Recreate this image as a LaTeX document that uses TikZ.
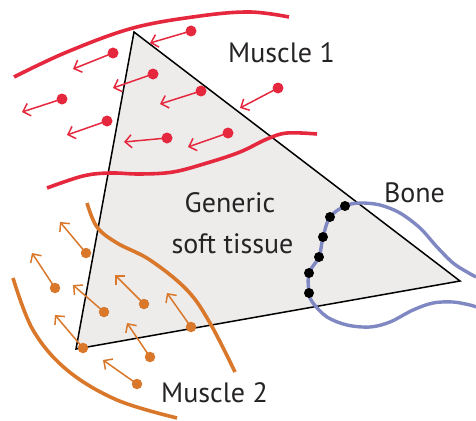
\documentclass[tikz,border=0pt]{standalone}
\usepackage{fontspec}
\setmainfont{PT Sans}
\usetikzlibrary{arrows.meta}
\definecolor{mred}{HTML}{E6283E}
\definecolor{morange}{HTML}{D9782B}
\definecolor{mblue}{HTML}{7F88C2}
\definecolor{tissue}{HTML}{EDECEB}
\definecolor{txt}{HTML}{262324}
\tikzset{
  reddot/.style={circle, fill=mred, inner sep=0pt, minimum size=11pt},
  orangedot/.style={circle, fill=morange, inner sep=0pt, minimum size=10.5pt},
  bonedot/.style={circle, fill=black, inner sep=0pt, minimum size=10pt},
  redarrow/.style={draw=mred, line width=1.5pt, -{Straight Barb[length=6.5pt,width=13pt]}},
  orangearrow/.style={draw=morange, line width=1.5pt, -{Straight Barb[length=6.5pt,width=13pt]}},
  redcurve/.style={draw=mred, line width=3.6pt},
  orangecurve/.style={draw=morange, line width=3.6pt},
  bonecurve/.style={draw=mblue, line width=3.4pt},
  lbl/.style={text=txt, font=\fontsize{28}{34}\selectfont, anchor=base, inner sep=0pt},
}
\begin{document}
\begin{tikzpicture}[x=1pt,y=-1pt]
\useasboundingbox (0,0) rectangle (476,420);
% tissue triangle
\coordinate (tA) at (134,32);
\coordinate (tB) at (460,281);
\coordinate (tC) at (76,349);
\draw[fill=tissue, line width=1.5pt, line join=miter] (tA) -- (tB) -- (tC) -- cycle;

% Muscle 1 boundaries
\draw[redcurve] plot[smooth, tension=0.6] coordinates {(14,77) (67,52) (133,28) (200,16) (250,12) (289,17)};
\draw[redcurve] plot[smooth, tension=0.6] coordinates {(47,188) (83,176) (110,173) (140,174) (173,172) (207,163) (240,152) (267,139) (287,133) (317,134)};

% Muscle 2 boundaries
\draw[orangecurve] plot[smooth, tension=0.6] coordinates {(87,203) (97,227) (117,243) (150,260) (187,290) (210,323) (235,372)};
\draw[orangecurve] plot[smooth, tension=0.6] coordinates {(13,278) (33,330) (67,370) (117,400) (177,418)};

% Bone
\draw[bonecurve] plot[smooth, tension=0.55] coordinates {(476,277) (467,272) (453,263) (437,247) (420,228) (400,213) (380,205) (360,203) (345,206) (330,217) (323,237) (319,257) (309,273) (309,293) (313,303) (327,317) (347,325) (370,327) (390,322) (413,310) (433,303) (453,302) (470,305) (476,307)};
\node[bonedot] (b1) at (345,206) {};
\node[bonedot] (b2) at (330,217) {};
\node[bonedot] (b3) at (323,237) {};
\node[bonedot] (b4) at (319,257) {};
\node[bonedot] (b5) at (309,273) {};
\node[bonedot] (b6) at (309,293) {};

% Muscle 1 arrows
\node[reddot] (r1) at (191,31) {};  \coordinate (r1h) at (150,43);
\node[reddot] (r2) at (113,53) {};  \coordinate (r2h) at (73,69);
\node[reddot] (r3) at (153,74) {};  \coordinate (r3h) at (113,88);
\node[reddot] (r4) at (201,91) {};  \coordinate (r4h) at (160,104);
\node[reddot] (r5) at (278,88) {};  \coordinate (r5h) at (240,108);
\node[reddot] (r6) at (62,99) {};   \coordinate (r6h) at (22,112);
\node[reddot] (r7) at (107,121) {}; \coordinate (r7h) at (67,135);
\node[reddot] (r8) at (167,138) {}; \coordinate (r8h) at (124,142);
\node[reddot] (r9) at (228,133) {}; \coordinate (r9h) at (188,147);
\foreach \i in {1,...,9} \draw[redarrow] (r\i.center) -- (r\i h);

% Muscle 2 arrows
\node[orangedot] (o1) at (86,253) {};  \coordinate (o1h) at (60,222);
\node[orangedot] (o2) at (55,288) {};  \coordinate (o2h) at (32,253);
\node[orangedot] (o3) at (104,312) {}; \coordinate (o3h) at (73,285);
\node[orangedot] (o4) at (144,304) {}; \coordinate (o4h) at (115,275);
\node[orangedot] (o5) at (83,348) {};  \coordinate (o5h) at (55,315);
\node[orangedot] (o6) at (150,357) {}; \coordinate (o6h) at (127,323);
\node[orangedot] (o7) at (191,327) {}; \coordinate (o7h) at (167,293);
\node[orangedot] (o8) at (137,384) {}; \coordinate (o8h) at (103,360);
\foreach \i in {1,...,8} \draw[orangearrow] (o\i.center) -- (o\i h);

% labels
\node[lbl] (m1) at (281.5,63) {Muscle 1};
\node[lbl] (g1) at (230,212) {Generic};
\node[lbl] (g2) at (232.5,253) {soft tissue};
\node[lbl] (bn) at (414.5,202) {Bone};
\node[lbl] (m2) at (214.5,402) {Muscle 2};
\end{tikzpicture}
\end{document}
